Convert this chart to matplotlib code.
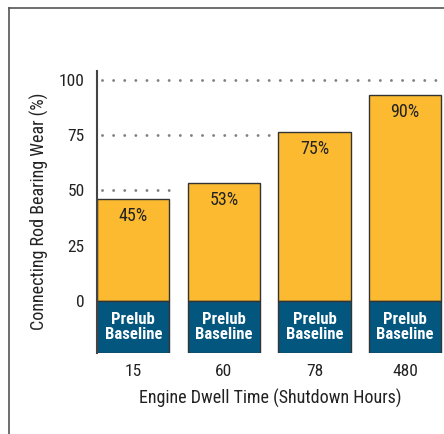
import matplotlib
matplotlib.use("Agg")
import matplotlib.pyplot as plt
from matplotlib import font_manager

# data
dwell_hours = ["15", "60", "78", "480"]
wear_pct = [46, 53.5, 76.5, 93]          # bar heights as drawn
wear_labels = ["45%", "53%", "75%", "90%"]
base_label = "Prelub\nBaseline"
y_ticks = [0, 25, 50, 75, 100]
grid_levels = [50, 75, 100]

names = {f.name for f in font_manager.fontManager.ttflist}
font = "DejaVu Sans"
for cand in ["Roboto Condensed", "Liberation Sans Narrow", "Arial Narrow",
             "Open Sans Condensed", "Roboto", "Liberation Sans"]:
    if cand in names:
        font = cand
        break
plt.rcParams["font.family"] = [font, "DejaVu Sans"]

yellow = "#FBBA2F"
blue = "#03577F"
edge = "#333333"
base_bottom = -23.5

fig = plt.figure(figsize=(4.44, 4.34), dpi=100)
ax = fig.add_axes([0.2185, 0.1866, 0.7815, 0.650])

x = list(range(len(dwell_hours)))

# dotted guide lines, stopping at the first taller bar
for lvl in grid_levels:
    end = 3.43
    for i, h in enumerate(wear_pct):
        if h > lvl:
            end = i - 0.49
            break
    ax.plot([-0.34, end], [lvl, lvl], linestyle=(0, (0.01, 3.8)), color="#808080",
            linewidth=2.1, dash_capstyle="round", zorder=1)

ax.bar(x, wear_pct, width=0.8, color=yellow, edgecolor=edge, linewidth=1.0, zorder=2)
ax.bar(x, [-base_bottom] * len(x), bottom=base_bottom, width=0.8, color=blue,
       edgecolor=edge, linewidth=1.0, zorder=2)

for xi, h, lab in zip(x, wear_pct, wear_labels):
    ax.text(xi, h - 7.7, lab, ha="center", va="center", fontsize=13, color="#222222", zorder=3)
    ax.text(xi, base_bottom / 2 + 0.1, base_label, ha="center", va="center", fontsize=12,
            fontweight="bold", color="white", linespacing=1.0, zorder=3)

ax.set_xlim(-0.4, 3.43)
ax.set_ylim(base_bottom, 104)
ax.set_yticks(y_ticks)
ax.set_yticklabels([str(t) for t in y_ticks])
ax.set_xticks(x)
ax.set_xticklabels(dwell_hours)
ax.tick_params(axis="both", length=0, labelsize=12.5, colors="#222222")
ax.tick_params(axis="y", pad=9)
ax.tick_params(axis="x", pad=8)
for s in ["top", "right", "bottom"]:
    ax.spines[s].set_visible(False)
ax.spines["left"].set_color("#444444")
ax.spines["left"].set_linewidth(1.5)

ax.set_xlabel("Engine Dwell Time (Shutdown Hours)", fontsize=13, color="#222222", labelpad=7)
fig.text(0.088, 0.513, "Connecting Rod Bearing Wear (%)", rotation=90, ha="center", va="center",
         fontsize=13, color="#222222")

# outer frame
fig.add_artist(plt.Line2D([0.021, 0.021], [0, 0.982], color="#555555", linewidth=1.2))
fig.add_artist(plt.Line2D([0.021, 1.0], [0.982, 0.982], color="#555555", linewidth=1.2))

fig.savefig("out.png", dpi=100)
